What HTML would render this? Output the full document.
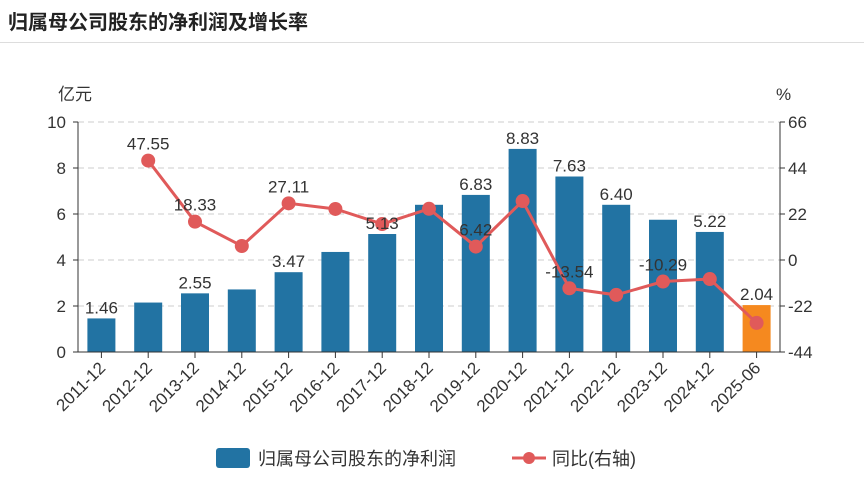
<!DOCTYPE html>
<html><head><meta charset="utf-8"><style>
body{margin:0;background:#fff;width:864px;height:494px;overflow:hidden;font-family:"Liberation Sans","Noto Sans CJK SC",sans-serif}
</style></head><body>
<div style="position:absolute;left:8px;top:6px;font-size:20px;font-weight:bold;color:#222">归属母公司股东的净利润及增长率</div>
<div style="position:absolute;left:0;top:42px;width:864px;height:1px;background:#ddd"></div>
<svg id="c" width="864" height="494" style="position:absolute;left:0;top:0" font-family="Liberation Sans, Noto Sans CJK SC, sans-serif"></svg>
<script>
const categories=["2011-12","2012-12","2013-12","2014-12","2015-12","2016-12","2017-12","2018-12","2019-12","2020-12","2021-12","2022-12","2023-12","2024-12","2025-06"];
const profit=[1.46,2.15,2.55,2.72,3.47,4.35,5.13,6.40,6.83,8.83,7.63,6.40,5.75,5.22,2.04];
const profitLabels=["1.46","","2.55","","3.47","","5.13","","6.83","8.83","7.63","6.40","","5.22","2.04"];
const growth=[null,47.55,18.33,6.7,27.11,24.4,17.2,24.5,6.42,28.2,-13.54,-16.7,-10.29,-9.1,-30.1];
const growthLabels=["","47.55","18.33","","27.11","","","","6.42","","-13.54","","-10.29","",""];
const leftTicks=[0,2,4,6,8,10];
const rightTicks=[-44,-22,0,22,44,66];
const svg=document.getElementById('c');const NS='http://www.w3.org/2000/svg';
const X0=78,X1=780,Y0=352,Y1=122;
const step=(X1-X0)/categories.length;
const xc=i=>X0+step*(i+0.5);
const yl=v=>Y0-(v/10)*(Y0-Y1);
const yr=v=>Y0-((v+44)/110)*(Y0-Y1);
function el(t,a,txt){const e=document.createElementNS(NS,t);for(const k in a)e.setAttribute(k,a[k]);if(txt!==undefined)e.textContent=txt;svg.appendChild(e);return e;}
leftTicks.forEach(v=>{
 if(v>0){const g=el('line',{x1:X0,x2:X1,y1:yl(v),y2:yl(v),stroke:'#ccc','stroke-dasharray':'6,4'});
 
 }
 const t=el('text',{x:X0-12,y:yl(v)+6,'text-anchor':'end','font-size':17,fill:'#333'},v);
 
 
 el('line',{x1:X0-5,x2:X0,y1:yl(v),y2:yl(v),stroke:'#333'});
});
rightTicks.forEach(v=>{
 const t=el('text',{x:X1+8,y:yr(v)+6,'font-size':17,fill:'#333'},v);
 
 
 el('line',{x1:X1,x2:X1+5,y1:yr(v),y2:yr(v),stroke:'#333'});
});
el('line',{x1:X0,x2:X0,y1:Y1,y2:Y0,stroke:'#333'});
el('line',{x1:X1,x2:X1,y1:Y1,y2:Y0,stroke:'#333'});
const u1=el('text',{x:58,y:100,'font-size':17,fill:'#333'},'亿元');


const u2=el('text',{x:776,y:100,'font-size':17,fill:'#333'},'%');


profit.forEach((v,i)=>{
 const r=el('rect',{x:xc(i)-14,y:yl(v),width:28,height:Y0-yl(v),fill:i==categories.length-1?'#f5891f':'#2273a3'});
 
 
});
el('line',{x1:X0,x2:X1,y1:Y0,y2:Y0,stroke:'#333'});
categories.forEach((c,i)=>{
 el('line',{x1:xc(i),x2:xc(i),y1:Y0,y2:Y0+6,stroke:'#333'});
 const t=el('text',{x:xc(i)+5,y:Y0+17,'text-anchor':'end','font-size':17,fill:'#333',transform:`rotate(-45 ${xc(i)+5} ${Y0+17})`},c);
 
 
});
let pts=[];growth.forEach((v,i)=>{if(v!==null)pts.push(xc(i)+','+yr(v));});
const pl=el('polyline',{points:pts.join(' '),fill:'none',stroke:'#e05a5a','stroke-width':3});


growth.forEach((v,i)=>{if(v===null)return;
 const p=el('circle',{cx:xc(i),cy:yr(v),r:7,fill:'#e05a5a'});
 
 });
profitLabels.forEach((s,i)=>{if(!s)return;
 const t=el('text',{x:xc(i),y:yl(profit[i])-5,'text-anchor':'middle','font-size':17,fill:'#333'},s);
 
 });
growthLabels.forEach((s,i)=>{if(!s)return;
 const t=el('text',{x:xc(i),y:yr(growth[i])-11,'text-anchor':'middle','font-size':17,fill:'#333'},s);
 
 });
const lr=el('rect',{x:216,y:448,width:34,height:20,rx:3,fill:'#2273a3'});


const lt=el('text',{x:258,y:465,'font-size':18,fill:'#333'},'归属母公司股东的净利润');


el('line',{x1:512,x2:546,y1:458,y2:458,stroke:'#e05a5a','stroke-width':3});
const lc=el('circle',{cx:529,cy:458,r:6,fill:'#e05a5a'});


const lt2=el('text',{x:552,y:465,'font-size':18,fill:'#333'},'同比(右轴)');


</script>
</body></html>
